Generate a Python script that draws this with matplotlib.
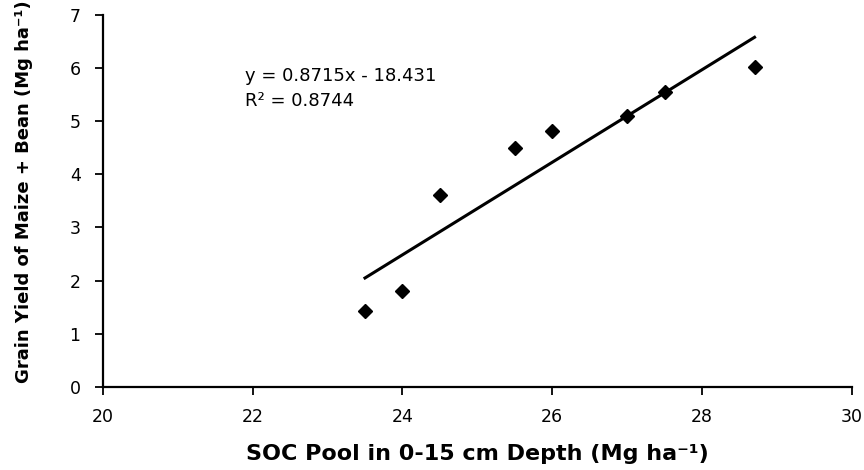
import matplotlib
matplotlib.use("Agg")
import matplotlib.pyplot as plt
import numpy as np

soc = [23.5, 24.0, 24.5, 25.5, 26.0, 27.0, 27.5, 28.7]
yield_ = [1.42, 1.80, 3.62, 4.50, 4.81, 5.10, 5.55, 6.03]
slope = 0.8715
intercept = -18.431
r2 = 0.8744
xticks = [20, 22, 24, 26, 28, 30]
yticks = [0, 1, 2, 3, 4, 5, 6, 7]

plt.rcParams['font.family'] = ['DejaVu Sans']

fig = plt.figure(figsize=(8.64, 4.70), dpi=100)
ax = fig.add_axes([0.119, 0.177, 0.867, 0.791])

ax.plot(soc, yield_, linestyle='none', marker='D', color='black', markersize=7.5)
xl = np.array([min(soc), max(soc)])
ax.plot(xl, slope * xl + intercept, color='black', linewidth=2.2)

ax.set_xlim(20, 30)
ax.set_ylim(0, 7)
ax.set_xticks(xticks)
ax.set_yticks(yticks)
ax.tick_params(direction='out', length=6, width=1.3, labelsize=12.5)
ax.tick_params(axis='x', pad=9)
ax.tick_params(axis='y', pad=10)
for s in ['top', 'right']:
    ax.spines[s].set_visible(False)
for s in ['left', 'bottom']:
    ax.spines[s].set_linewidth(1.6)

ax.set_xlabel('SOC Pool in 0-15 cm Depth (Mg ha\u207b\u00b9)', fontsize=16, fontweight='bold', labelpad=13)
ax.set_ylabel('Grain Yield of Maize + Bean (Mg ha\u207b\u00b9)', fontsize=13, fontweight='bold')
ax.yaxis.set_label_coords(-0.093, 0.524)

ax.text(21.9, 5.86, f'y = {slope}x - {abs(intercept)}', fontsize=13, va='center', ha='left')
ax.text(21.9, 5.39, f'R\u00b2 = {r2}', fontsize=13, va='center', ha='left')

fig.savefig('out.png', dpi=100)
